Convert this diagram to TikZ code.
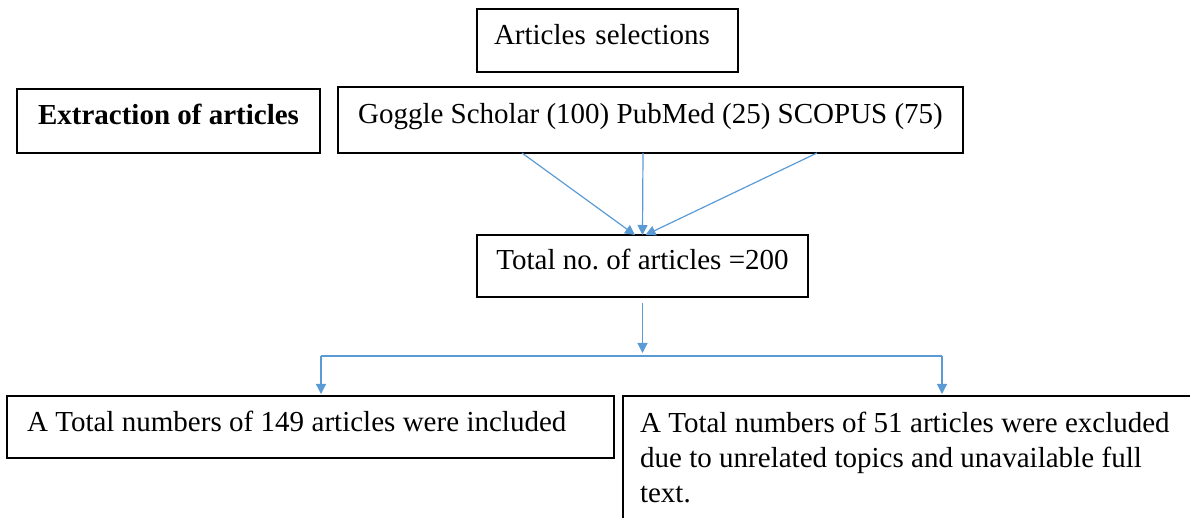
\documentclass[tikz,border=0pt]{standalone}
\usepackage{fontspec}
\setmainfont{Liberation Serif}
\usetikzlibrary{arrows.meta}
\definecolor{wordblue}{RGB}{91,155,213}
\newcommand\boxfont{\fontsize{14.5}{17.5}\selectfont}
\newcommand\tightspace{\spaceskip=3.7pt plus 1pt minus 0.5pt\relax}
\tikzset{
  frame/.style={draw, line width=1pt, outer sep=0pt, font=\boxfont},
  box/.style={frame, text height=10pt, text depth=6pt},
  tight/.style={execute at begin node=\tightspace},
  link/.style={wordblue, line width=0.6pt},
  flow/.style={link, -{Triangle[width=5pt,length=5pt]}}
}
\begin{document}
\begin{tikzpicture}[x=0.5pt, y=-0.5pt]
  \useasboundingbox (0,0) rectangle (1190,518);
  \clip (0,0) rectangle (1190,518);
  \node[box, text width=113.5pt, inner xsep=8.5pt, minimum height=31.5pt, align=left] (sel) at (607.5,40.5) {Articles selections};
  \node[box, font=\boxfont\bfseries, minimum width=151.5pt, minimum height=32pt] (ext) at (168.5,121) {Extraction of articles};
  \node[box, minimum width=312.5pt, minimum height=33pt] (src) at (650.5,120) {Goggle Scholar (100) PubMed (25) SCOPUS (75)};
  \node[box, minimum width=165.5pt, minimum height=31pt] (tot) at (642.5,266) {Total no.\ of articles =200};
  \node[box, tight, text width=283.5pt, inner xsep=10pt, minimum height=31pt, align=left] (inc) at (310.5,427) {A Total numbers of 149 articles were included};
  \node[frame, tight, anchor=north west, text width=300pt, inner xsep=8.5pt, inner ysep=8pt, align=left] (exc) at (623,396) {A Total numbers of 51 articles were excluded\\ due to unrelated topics and unavailable full\\ text.\strut};
  \foreach \a/\b in {-64.25/-3.75, -3.75/0, 83.25/1.5}
    \draw[flow] ([xshift=\a pt]src.south) -- ([xshift=\b pt]tot.north);
  \coordinate (fork) at (642,356);
  \coordinate (forkL) at (321,356);
  \coordinate (forkR) at (942,356);
  \draw[flow, shorten <=3pt, shorten >=1.5pt] (tot.south) -- (tot.south |- fork);
  \draw[link] (forkL) -- (forkR);
  \draw[flow, shorten >=1pt] (forkL) -- (forkL |- inc.north);
  \draw[flow, shorten >=1pt] (forkR) -- (forkR |- exc.north);
\end{tikzpicture}
\end{document}
